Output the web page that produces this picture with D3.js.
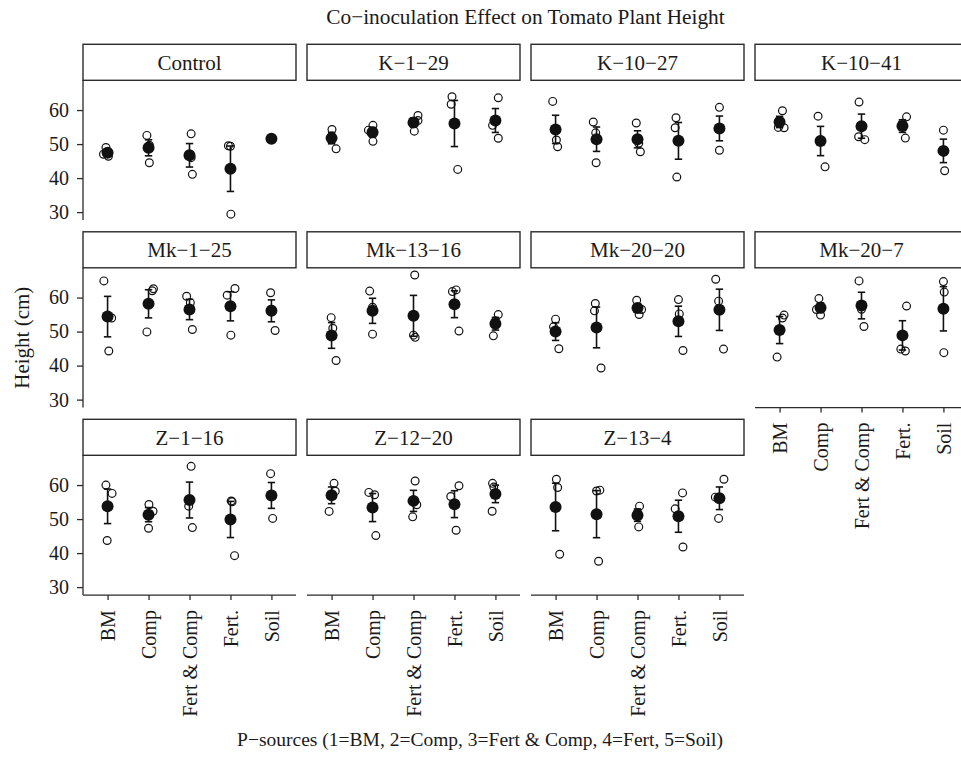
<!DOCTYPE html>
<html>
<head>
<meta charset="utf-8">
<script src="https://cdn.jsdelivr.net/npm/d3@7"></script>
<style>
body { margin: 0; background: #fff; }
text { font-family: "Liberation Serif", "DejaVu Serif", serif; fill: #1a1a1a; }
</style>
</head>
<body>
<svg class="chart" width="961" height="758"></svg>
<script>

//
// data
//

var strains = ["Control", "K−1−29", "K−10−27", "K−10−41",
               "Mk−1−25", "Mk−13−16", "Mk−20−20", "Mk−20−7",
               "Z−1−16", "Z−12−20", "Z−13−4"];

var sources = ["BM", "Comp", "Fert & Comp", "Fert.", "Soil"];

// plant height (cm) per strain, per P-source, replicates
var heights = [
    [[49.0, 47.0, 46.4], [52.55, 49.65, 44.5], [53.0, 46.0, 41.1], [49.5, 49.35, 29.4], [51.6]],
    [[54.3, 52.35, 48.6], [55.5, 54.1, 50.8], [58.4, 56.9, 53.8], [63.9, 61.7, 42.55], [63.6, 55.5, 51.7]],
    [[62.55, 51.2, 49.2], [56.5, 53.3, 44.5], [56.2, 50.25, 47.75], [57.75, 54.8, 40.3], [60.8, 54.8, 48.2]],
    [[59.8, 54.9, 54.8], [58.2, 51.2, 43.3], [62.35, 52.15, 51.3], [58.0, 56.15, 51.75], [54.1, 47.75, 42.15]],
    [[64.9, 54.0, 44.3], [62.6, 62.0, 49.9], [60.4, 58.5, 50.6], [62.65, 60.7, 48.95], [61.4, 56.6, 50.3]],
    [[54.1, 51.0, 41.5], [61.9, 57.15, 49.25], [66.65, 48.95, 48.3], [62.25, 61.75, 50.15], [55.0, 53.15, 48.75]],
    [[53.65, 51.4, 44.95], [58.25, 56.1, 39.3], [59.2, 56.5, 55.0], [59.4, 55.2, 44.45], [65.4, 58.95, 44.85]],
    [[54.85, 54.0, 42.5], [59.7, 56.5, 54.85], [64.9, 56.55, 51.5], [57.5, 44.85, 44.3], [64.7, 61.6, 43.8]],
    [[60.0, 57.55, 43.7], [54.3, 52.3, 47.3], [65.5, 53.8, 47.5], [55.3, 55.1, 39.25], [63.35, 57.3, 50.2]],
    [[60.5, 58.2, 52.25], [57.85, 57.15, 45.15], [61.2, 54.2, 50.65], [59.8, 56.65, 46.7], [60.5, 59.4, 52.3]],
    [[61.7, 59.3, 39.65], [58.5, 58.25, 37.6], [53.8, 51.95, 47.7], [57.7, 53.0, 41.8], [61.7, 56.45, 50.2]]
];

// horizontal jitter of each replicate, in category units
var jitter = [
    [[-0.04, -0.1, 0.02], [-0.04, 0.02, 0.02], [0.04, 0.04, 0.07], [-0.05, 0, 0.01], [0]],
    [[0.01, 0, 0.11], [0.01, -0.1, 0.01], [0.11, 0.11, 0.02], [-0.06, -0.08, 0.08], [0.07, -0.07, 0.07]],
    [[-0.07, 0.02, 0.05], [-0.08, -0.02, -0.01], [-0.03, 0.03, 0.07], [-0.06, -0.08, -0.04], [0, 0.02, 0]],
    [[0.07, -0.03, 0.11], [-0.06, 0, 0.11], [-0.06, -0.07, 0.08], [0.1, 0, 0.07], [0, 0.02, 0.03]],
    [[-0.09, 0.1, 0.03], [0.12, 0.09, -0.04], [-0.07, 0.02, 0.07], [0.11, -0.08, 0.01], [-0.02, 0, 0.09]],
    [[-0.01, 0.03, 0.11], [-0.07, 0, 0], [0.03, 0, 0.04], [0.04, -0.05, 0.11], [0.07, 0, -0.05]],
    [[0, -0.05, 0.08], [-0.03, -0.05, 0.11], [-0.02, 0.1, 0.04], [0, 0.02, 0.11], [-0.09, -0.02, 0.1]],
    [[0.11, 0.07, -0.06], [-0.04, -0.1, 0], [-0.06, 0, 0.06], [0.1, -0.04, 0.07], [0, 0.02, 0.01]],
    [[-0.04, 0.11, -0.01], [0.01, 0.11, 0], [0.04, -0.02, 0.07], [0.02, 0.04, 0.1], [-0.02, 0, 0.03]],
    [[0.06, 0.09, -0.06], [-0.09, 0.05, 0.08], [0.04, 0.08, -0.02], [0.11, -0.09, 0.04], [-0.07, -0.04, -0.08]],
    [[0.02, 0.05, 0.1], [0.08, 0, 0.05], [0.05, 0, 0.03], [0.1, -0.08, 0.11], [0.11, -0.1, -0.02]]
];

var yTicks = [30, 40, 50, 60];
var yDomain = [27.65, 68.75];

var title = "Co−inoculation Effect on Tomato Plant Height";
var xTitle = "P−sources (1=BM, 2=Comp, 3=Fert & Comp, 4=Fert, 5=Soil)";
var yTitle = "Height (cm)";

//
// layout
//

var ncol = 4;
var plotLeft = 83, plotTop = 44.3;
var panelW = 213, colStep = 224;
var stripH = 36, panelH = 139.8, rowStep = 187.5;
var lineColor = "#2b2b2b";

var x = d3.scalePoint()
    .domain(sources)
    .range([0, panelW])
    .padding(0.6);

var y = d3.scaleLinear()
    .domain(yDomain)
    .range([panelH, 0]);

var svg = d3.select(".chart");

svg.append("text")
    .attr("x", plotLeft + (ncol * colStep - (colStep - panelW)) / 2)
    .attr("y", 24)
    .attr("text-anchor", "middle")
    .style("font-size", "21.3px")
    .text(title);

// number of panels in each column, to know where bottom axes go
var nrow = Math.ceil(strains.length / ncol);
function lastRowOf(col) {
    var r = nrow - 1;
    while (r * ncol + col >= strains.length) r--;
    return r;
}

//
// panels
//

strains.forEach(function (name, k) {
    var col = k % ncol, row = Math.floor(k / ncol);
    var px = plotLeft + col * colStep;
    var py = plotTop + row * rowStep;

    // strip
    var strip = svg.append("g")
        .attr("transform", "translate(" + px + "," + py + ")");
    strip.append("rect")
        .attr("width", panelW)
        .attr("height", stripH)
        .attr("fill", "#fff")
        .attr("stroke", lineColor)
        .attr("stroke-width", 1.4);
    strip.append("text")
        .attr("x", panelW / 2)
        .attr("y", stripH / 2)
        .attr("dy", "0.36em")
        .attr("text-anchor", "middle")
        .style("font-size", "21px")
        .text(name);

    var g = svg.append("g")
        .attr("transform", "translate(" + px + "," + (py + stripH) + ")");

    // left axis on first column
    if (col === 0) {
        var ya = g.append("g")
            .call(d3.axisLeft(y).tickValues(yTicks).tickSize(6).tickPadding(8));
        ya.select(".domain").attr("d", "M0,0V" + panelH);
        ya.selectAll("path, line")
            .attr("stroke", lineColor)
            .attr("stroke-width", 1.3);
        ya.selectAll("text")
            .attr("fill", "#1a1a1a")
            .style("font-family", "Liberation Serif, serif")
            .style("font-size", "20px");
    }

    // bottom axis on last panel of each column
    if (row === lastRowOf(col)) {
        var xa = g.append("g")
            .attr("transform", "translate(0," + panelH + ")")
            .call(d3.axisBottom(x).tickSize(5).tickPadding(0));
        xa.select(".domain").attr("d", "M0,0H" + panelW);
        xa.selectAll("path, line")
            .attr("stroke", lineColor)
            .attr("stroke-width", 1.3);
        xa.selectAll("text")
            .attr("fill", "#1a1a1a")
            .style("font-family", "Liberation Serif, serif")
            .style("font-size", "20px")
            .attr("text-anchor", "end")
            .attr("transform", "translate(0,15) rotate(-90)")
            .attr("x", 0)
            .attr("y", 0)
            .attr("dy", "0.34em");
    }

    // replicates
    var pts = [];
    heights[k].forEach(function (vals, s) {
        vals.forEach(function (v, i) {
            pts.push({ s: sources[s], v: v, j: jitter[k][s][i] });
        });
    });
    g.selectAll("circle.rep")
        .data(pts)
        .enter().append("circle")
        .attr("class", "rep")
        .attr("cx", function (d) { return x(d.s) + d.j * x.step(); })
        .attr("cy", function (d) { return y(d.v); })
        .attr("r", 3.9)
        .attr("fill", "none")
        .attr("stroke", "#111")
        .attr("stroke-width", 1.2);

    // mean +/- standard error
    var summ = heights[k].map(function (vals, s) {
        var m = d3.mean(vals);
        var se = vals.length > 1 ? d3.deviation(vals) / Math.sqrt(vals.length) : 0;
        return { s: sources[s], m: m, se: se };
    });
    var cap = 0.09 * x.step();
    var bars = g.selectAll("g.bar")
        .data(summ.filter(function (d) { return d.se > 0; }))
        .enter().append("g")
        .attr("class", "bar")
        .attr("stroke", "#111")
        .attr("stroke-width", 1.6);
    bars.append("line")
        .attr("x1", function (d) { return x(d.s); })
        .attr("x2", function (d) { return x(d.s); })
        .attr("y1", function (d) { return y(d.m - d.se); })
        .attr("y2", function (d) { return y(d.m + d.se); });
    [-1, 1].forEach(function (sign) {
        bars.append("line")
            .attr("x1", function (d) { return x(d.s) - cap; })
            .attr("x2", function (d) { return x(d.s) + cap; })
            .attr("y1", function (d) { return y(d.m + sign * d.se); })
            .attr("y2", function (d) { return y(d.m + sign * d.se); });
    });
    g.selectAll("circle.mean")
        .data(summ)
        .enter().append("circle")
        .attr("class", "mean")
        .attr("cx", function (d) { return x(d.s); })
        .attr("cy", function (d) { return y(d.m); })
        .attr("r", 6)
        .attr("fill", "#111");
});

//
// axis titles
//

svg.append("text")
    .attr("x", 480)
    .attr("y", 746)
    .attr("text-anchor", "middle")
    .style("font-size", "19.5px")
    .text(xTitle);

svg.append("text")
    .attr("transform", "translate(21," + (plotTop + stripH + (2 * rowStep + panelH) / 2) + ") rotate(-90)")
    .attr("dy", "0.36em")
    .attr("text-anchor", "middle")
    .style("font-size", "21px")
    .text(yTitle);

</script>
</body>
</html>
